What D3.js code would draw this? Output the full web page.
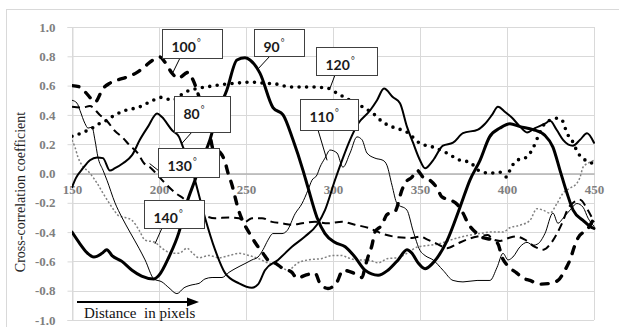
<!DOCTYPE html>
<html>
<head>
<meta charset="utf-8">
<script src="https://cdn.jsdelivr.net/npm/d3@7/dist/d3.min.js"></script>
<style>
  body { margin: 0; background: #fff; }
  svg { display: block; }
</style>
</head>
<body>
<svg id="chart" width="619" height="327"></svg>
<script>
// ---- data: cross-correlation coefficient vs. distance (pixels), one series per angle ----
const xTicks = [150, 200, 250, 300, 350, 400, 450];
const yTicks = [-1.0, -0.8, -0.6, -0.4, -0.2, 0.0, 0.2, 0.4, 0.6, 0.8, 1.0];

const s90 = [
  [150,-0.40],[154,-0.47],[158.6,-0.54],[162.6,-0.57],[167.2,-0.545],[170,-0.52],[173,-0.56],
  [178.7,-0.60],[184.5,-0.66],[190,-0.70],[197,-0.72],[200,-0.695],[205.7,-0.57],[211.5,-0.40],
  [216,-0.20],[220.7,-0.045],[224.7,0.09],[229.3,0.23],[233.3,0.40],[239,0.57],[244.8,0.775],
  [249.4,0.79],[252.3,0.775],[258,0.685],[265.5,0.45],[271.3,0.40],[277,0.23],[282.8,0.02],
  [285.6,-0.095],[290.8,-0.30],[295.4,-0.41],[301,-0.47],[307,-0.50],[312.6,-0.57],[318.4,-0.66],
  [325.9,-0.695],[331.6,-0.66],[337.4,-0.59],[342.5,-0.52],[345.4,-0.545],[348.9,-0.61],
  [352.9,-0.65],[357.5,-0.61],[365.5,-0.46],[373,-0.23],[378.7,-0.045],[384.5,0.09],[390,0.25],
  [396,0.31],[401.7,0.34],[407.5,0.32],[415,0.30],[421.8,0.26],[426.4,0.18],[430.5,0.02],
  [434.5,-0.135],[438,-0.25],[443.7,-0.32],[448.9,-0.37],[450,-0.375]
];

const s80 = [
  [150,-0.094],[152.3,-0.03],[156.3,0.036],[160.3,0.09],[164.4,0.11],[167.8,0.105],[171.8,0.02],
  [174.7,0.036],[179.3,0.07],[184.5,0.125],[189,0.23],[193.7,0.32],[198.9,0.41],[201.7,0.385],
  [207.5,0.295],[211.5,0.25],[213.8,0.18],[217.8,0.077],[220.7,-0.046],[226.4,-0.30],[232.2,-0.52],
  [238,-0.68],[246,-0.75],[253.4,-0.78],[256.9,-0.757],[260.9,-0.66],[268.4,-0.59],[276.4,-0.50],
  [283.9,-0.43],[290.8,-0.35],[295.4,-0.25],[301.1,-0.046],[305.2,0.09],[309.8,0.23],[314.4,0.34],
  [321.3,0.43],[325.3,0.50],[329.3,0.58],[334.5,0.52],[338.5,0.48],[342.5,0.32],[346,0.21],
  [350,0.09],[352.9,0.036],[357.5,0.09],[363.2,0.19],[369,0.21],[374.7,0.275],[383.3,0.30],
  [387.4,0.34],[391.4,0.40],[394.8,0.455],[398.9,0.42],[402.9,0.38],[407.5,0.32],[411.5,0.28],
  [416.1,0.31],[421.8,0.34],[424.7,0.36],[428.7,0.295],[432.2,0.23],[437.9,0.19],[442,0.23],
  [446,0.275],[450,0.21]
];

const s100 = [
  [150,0.60],[154.6,0.59],[159.2,0.535],[163.2,0.487],[167.8,0.58],[171.8,0.617],[175.9,0.637],
  [181.6,0.658],[187.4,0.69],[190.8,0.72],[196.6,0.775],[200.6,0.795],[203.4,0.76],[207.5,0.685],
  [210.9,0.65],[216.7,0.69],[219.5,0.64],[223.6,0.50],[227,0.36],[229.3,0.26],[231,0.17],
  [235,0.145],[238,0.077],[239.7,0.002],[242,-0.08],[243.7,-0.16],[245.4,-0.237],[248.3,-0.33],
  [251.1,-0.39],[256.3,-0.49],[259.8,-0.545],[262.6,-0.59],[266.7,-0.61],[270.7,-0.645],
  [276.4,-0.675],[279.3,-0.715],[283.9,-0.695],[289.7,-0.68],[292.5,-0.75],[297.1,-0.785],
  [302.3,-0.74],[305.7,-0.66],[310.9,-0.675],[316.7,-0.71],[318.4,-0.64],[320.1,-0.57],
  [322.4,-0.49],[324.1,-0.40],[328.2,-0.35],[331,-0.28],[335.6,-0.26],[339.7,-0.11],
  [341.4,-0.066],[345.4,-0.025],[348.3,0.022],[351.7,-0.025],[355.7,-0.046],[359.8,-0.10],
  [362.6,-0.16],[367.2,-0.18],[371.3,-0.21],[374.7,-0.27],[377.6,-0.34],[382.8,-0.41],
  [385.6,-0.435],[392,-0.455],[394.8,-0.48],[397.1,-0.57],[400,-0.625],[405.7,-0.68],
  [408.6,-0.71],[413.2,-0.73],[419,-0.755],[424.7,-0.75],[429.3,-0.73],[433.3,-0.66],
  [436.2,-0.59],[439,-0.49],[440.8,-0.44],[446.6,-0.375],[450,-0.305]
];

const s130 = [
  [150,0.455],[155.7,0.45],[160.3,0.46],[166,0.40],[170,0.36],[174.7,0.29],[178.7,0.25],
  [183.3,0.19],[187.4,0.145],[191.4,0.07],[194.8,0.043],[197.7,0.009],[203.4,-0.065],
  [209.2,-0.13],[215,-0.18],[220.7,-0.25],[225.9,-0.285],[232.2,-0.305],[240.2,-0.30],
  [246,-0.305],[249.4,-0.33],[253.4,-0.305],[259.2,-0.305],[264.9,-0.33],[270.7,-0.34],
  [276.4,-0.35],[282.2,-0.34],[289.7,-0.33],[297.1,-0.34],[305.2,-0.33],[312.6,-0.35],
  [320.1,-0.37],[328.2,-0.41],[337.4,-0.435],[345.4,-0.44],[350,-0.43],[354,-0.45],
  [359.8,-0.48],[365.5,-0.51],[371.3,-0.48],[377,-0.45],[383,-0.43],[389,-0.42],[392,-0.45],
  [396,-0.46],[401,-0.44],[405,-0.43],[410,-0.45],[416,-0.50],[421,-0.52],[425,-0.48],
  [428.7,-0.41],[432,-0.33],[435,-0.24],[438,-0.20],[442,-0.18],[446,-0.24],[450,-0.33]
];

const s120 = [
  [150,0.254],[156.3,0.28],[161.5,0.31],[166.1,0.343],[170.1,0.364],[174.7,0.40],[180.5,0.43],
  [188.5,0.453],[196.6,0.50],[201.7,0.52],[207.5,0.50],[215,0.555],[223,0.583],[230.5,0.597],
  [237.9,0.61],[244.8,0.617],[252.3,0.624],[259.8,0.617],[267.8,0.61],[275.3,0.59],[282.8,0.59],
  [288.5,0.59],[296.6,0.583],[302.3,0.548],[309.8,0.50],[317.2,0.453],[323,0.41],[328.7,0.35],
  [334.5,0.316],[342.5,0.282],[350,0.206],[357.5,0.18],[365.5,0.139],[373,0.09],[378.7,0.077],
  [383.3,0.023],[390.2,0.002],[396,0.009],[400,-0.025],[401.7,0.023],[405.7,0.09],[410.3,0.105],
  [414.4,0.16],[417.8,0.25],[421.8,0.343],[424.7,0.364],[428.7,0.377],[431.6,0.364],
  [434.5,0.275],[437.9,0.214],[440.8,0.139],[443.7,0.105],[446.6,0.077],[450,0.07]
];

const s110 = [
  [150,0.50],[152.9,0.48],[154.6,0.43],[157.5,0.34],[159.2,0.31],[161.5,0.316],[163.2,0.228],
  [164.9,0.112],[167.8,0.023],[170.1,-0.046],[174.7,-0.20],[178.7,-0.30],[183.3,-0.40],
  [188.5,-0.51],[192,-0.59],[197.1,-0.72],[201.7,-0.74],[205.7,-0.78],[210.3,-0.82],
  [214.4,-0.78],[219,-0.76],[223,-0.75],[226.4,-0.72],[230.5,-0.71],[236.2,-0.71],[240.2,-0.675],
  [243.7,-0.65],[249.4,-0.615],[253.4,-0.59],[256.9,-0.57],[259.8,-0.52],[262.6,-0.455],
  [265.5,-0.41],[270.7,-0.41],[273.6,-0.39],[278.2,-0.275],[282.2,-0.205],[285.6,-0.114],
  [287.9,-0.046],[290.8,-0.01],[292.5,0.043],[295.4,0.105],[298.3,0.16],[302.3,0.14],
  [305.7,0.043],[309.8,0.14],[313.8,0.25],[316.7,0.23],[319.5,0.14],[324.1,0.105],[328.7,0.09],
  [331,0.056],[333.9,-0.08],[336.8,-0.205],[342.5,-0.25],[346,-0.39],[350,-0.525],[352.9,-0.56],
  [357.5,-0.59],[363.2,-0.66],[369,-0.73],[374.7,-0.74],[382.8,-0.73],[390.2,-0.73],
  [394.3,-0.64],[397.7,-0.545],[400.6,-0.59],[403.4,-0.57],[407.5,-0.50],[411.5,-0.47],
  [415,-0.49],[417.8,-0.48],[421.8,-0.41],[426.4,-0.27],[429.3,-0.34],[432.2,-0.305],
  [436.2,-0.25],[440.2,-0.205],[443.7,-0.23],[446.6,-0.305],[450,-0.36]
];

const s140 = [
  [150,0.228],[151.7,0.18],[153.4,0.112],[155.7,0.057],[159.8,0.009],[164.4,-0.066],
  [167.8,-0.134],[171.3,-0.20],[174.7,-0.26],[177,-0.29],[180.5,-0.30],[184.5,-0.32],
  [188.5,-0.386],[192,-0.455],[197.7,-0.47],[201.7,-0.51],[207.5,-0.545],[211.5,-0.545],
  [216.1,-0.51],[219,-0.54],[223,-0.575],[228.7,-0.56],[234.5,-0.575],[240.2,-0.56],
  [246,-0.545],[251.7,-0.56],[256.9,-0.58],[262.6,-0.61],[268.4,-0.625],[274.1,-0.66],
  [279.9,-0.61],[285.6,-0.59],[293.7,-0.58],[299.4,-0.56],[305.2,-0.56],[308.6,-0.575],
  [314.4,-0.59],[320.1,-0.59],[325.9,-0.61],[331.6,-0.58],[337.4,-0.575],[343.1,-0.54],
  [348.9,-0.50],[355.7,-0.49],[361.5,-0.478],[367.2,-0.455],[373,-0.435],[378.7,-0.42],
  [384.5,-0.41],[390.2,-0.40],[397.7,-0.40],[401.7,-0.37],[407.5,-0.353],[413.2,-0.32],
  [417.2,-0.24],[420.7,-0.25],[424.7,-0.27],[428.7,-0.205],[432.2,-0.134],[436.2,-0.10],
  [440.2,-0.066],[442,-0.025],[443.7,0.043],[447.7,0.077],[450,0.09]
];

// ---- layout ----
const svg = d3.select("#chart");
const plot = { left: 72, right: 594, top: 27, bottom: 320 };

const x = d3.scaleLinear().domain([150, 450]).range([plot.left, plot.right]);
const y = d3.scaleLinear().domain([-1, 1]).range([plot.bottom, plot.top]);

// chart area border
svg.append("rect")
  .attr("x", 6.5).attr("y", 9.5).attr("width", 640).attr("height", 340)
  .attr("fill", "none").attr("stroke", "#d9d9d9").attr("stroke-width", 1);

// gridlines
const grid = svg.append("g");
grid.selectAll("line.h").data(yTicks).join("line")
  .attr("x1", plot.left).attr("x2", plot.right)
  .attr("y1", d => Math.round(y(d)) + 0.5).attr("y2", d => Math.round(y(d)) + 0.5)
  .attr("stroke", "#d9d9d9").attr("stroke-width", 1);
grid.selectAll("line.v").data(xTicks).join("line")
  .attr("y1", plot.top).attr("y2", plot.bottom)
  .attr("x1", d => Math.round(x(d)) + 0.5).attr("x2", d => Math.round(x(d)) + 0.5)
  .attr("stroke", "#d9d9d9").attr("stroke-width", 1);

// y axis with outside ticks
const yAxis = d3.axisLeft(y).tickValues(yTicks).tickFormat(d3.format(".1f")).tickSize(5).tickPadding(12);
const gy = svg.append("g").attr("transform", `translate(${plot.left + 0.5},0)`).call(yAxis);
gy.select(".domain").attr("stroke", "#d9d9d9");
gy.selectAll(".tick line").attr("stroke", "#d9d9d9");
gy.selectAll(".tick text")
  .attr("fill", "#7f7f7f").attr("font-family", "'Liberation Serif', 'Times New Roman', serif")
  .attr("font-weight", "bold").attr("font-size", 13)
  .text(d => d3.format(".1f")(d).replace("−", "-"));

// x axis drawn along the zero line
const xAxis = d3.axisBottom(x).tickValues(xTicks).tickSize(0).tickPadding(11);
const gx = svg.append("g").attr("transform", `translate(0,${y(0)})`).call(xAxis);
gx.select(".domain").attr("stroke", "#b3b3b3").attr("stroke-width", 1.6);
gx.selectAll(".tick text")
  .attr("fill", "#7f7f7f").attr("font-family", "'Liberation Serif', 'Times New Roman', serif")
  .attr("font-weight", "bold").attr("font-size", 13);

// series lines
svg.append("clipPath").attr("id", "plotClip").append("rect")
  .attr("x", plot.left).attr("y", plot.top - 4)
  .attr("width", plot.right - plot.left + 2).attr("height", plot.bottom - plot.top + 8);

const line = d3.line().x(d => x(d[0])).y(d => y(d[1])).curve(d3.curveMonotoneX);

const seriesStyles = [
  { data: s140, stroke: "#808080", width: 1.5, dash: "2,2", cap: "butt" },
  { data: s110, stroke: "#000", width: 1, dash: null, cap: "round" },
  { data: s130, stroke: "#000", width: 2, dash: "8,5", cap: "butt" },
  { data: s120, stroke: "#000", width: 3.6, dash: "0,7.5", cap: "round" },
  { data: s100, stroke: "#000", width: 3.4, dash: "7,9", cap: "round" },
  { data: s80,  stroke: "#000", width: 2, dash: null, cap: "round" },
  { data: s90,  stroke: "#000", width: 3, dash: null, cap: "round" }
];

const lines = svg.append("g").attr("clip-path", "url(#plotClip)");
lines.selectAll("path").data(seriesStyles).join("path")
  .attr("d", d => line(d.data))
  .attr("fill", "none")
  .attr("stroke", d => d.stroke)
  .attr("stroke-width", d => d.width)
  .attr("stroke-dasharray", d => d.dash)
  .attr("stroke-linecap", d => d.cap)
  .attr("stroke-linejoin", "round");

// callout labels: box corner and leader target given in data units
const callouts = [
  { label: "100", bx: 201.7, by: 0.986, w: 60, h: 29, sx: 180, sy: 58, tx: 208.0, ty: 0.69 },
  { label: "90",  bx: 254.6, by: 0.986, w: 50, h: 27, sx: 270, sy: 56, tx: 256.3, ty: 0.706 },
  { label: "120", bx: 290.2, by: 0.865, w: 61, h: 28, sx: 335, sy: 75, tx: 298.3, ty: 0.583 },
  { label: "80",  bx: 208.6, by: 0.528, w: 56, h: 36, sx: 192, sy: 132, tx: 213.2, ty: 0.206 },
  { label: "110", bx: 281.0, by: 0.507, w: 58, h: 31, sx: 318, sy: 130, tx: 296.6, ty: 0.09 },
  { label: "130", bx: 199.4, by: 0.172, w: 61, h: 29, sx: 159, sy: 171, tx: 194.6, ty: 0.068 },
  { label: "140", bx: 191.4, by: -0.183, w: 60, h: 28, sx: 162, sy: 228, tx: 197.7, ty: -0.48 }
];

const cg = svg.append("g");
callouts.forEach(c => {
  const bx = Math.round(x(c.bx)) + 0.5, by = Math.round(y(c.by)) + 0.5;
  cg.append("line")
    .attr("x1", c.sx).attr("y1", c.sy)
    .attr("x2", x(c.tx)).attr("y2", y(c.ty))
    .attr("stroke", "#000").attr("stroke-width", 1);
  cg.append("rect")
    .attr("x", bx).attr("y", by).attr("width", c.w).attr("height", c.h)
    .attr("fill", "#fff").attr("stroke", "#404040").attr("stroke-width", 1);
  const t = cg.append("text")
    .attr("x", bx + 9).attr("y", by + 22)
    .attr("font-family", "Lato, 'Open Sans', sans-serif")
    .attr("font-weight", "bold").attr("font-size", 14).attr("fill", "#1a1a1a");
  t.append("tspan").text(c.label);
  t.append("tspan").attr("font-size", 9).attr("font-weight", "normal").attr("dy", -6).attr("dx", 1).text("°");
});

// axis title
svg.append("text")
  .attr("transform", "translate(25,192) rotate(-90)")
  .attr("text-anchor", "middle")
  .attr("font-family", "'Liberation Serif', 'Times New Roman', serif")
  .attr("font-size", 14).attr("fill", "#222")
  .text("Cross-correlation coefficient");

// distance arrow and caption
svg.append("line")
  .attr("x1", 77).attr("y1", 302).attr("x2", 190).attr("y2", 302)
  .attr("stroke", "#000").attr("stroke-width", 1.8);
svg.append("path")
  .attr("d", "M187,297.5 L199,302 L187,306.5 Z")
  .attr("fill", "#000");
svg.append("text")
  .attr("x", 84).attr("y", 318)
  .attr("font-family", "'Liberation Serif', 'Times New Roman', serif")
  .attr("font-size", 15).attr("fill", "#111")
  .style("white-space", "pre")
  .text("Distance  in pixels");
</script>
</body>
</html>
